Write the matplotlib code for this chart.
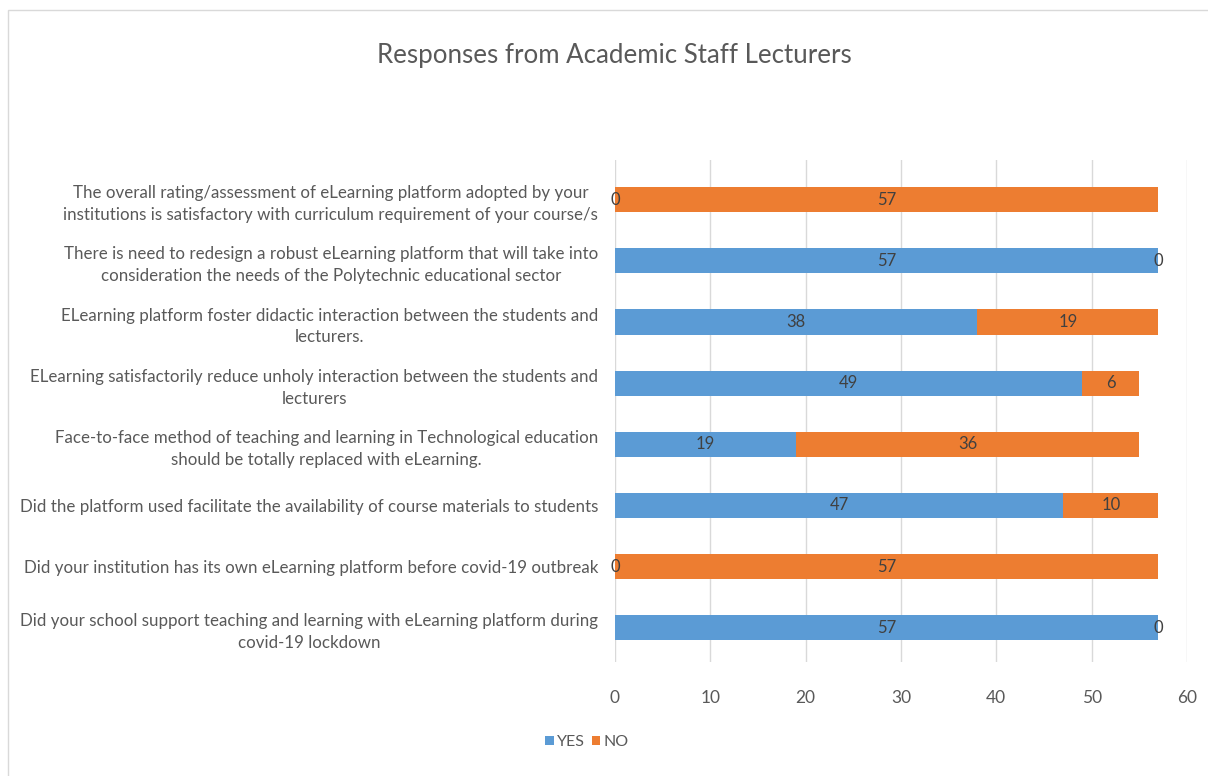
import matplotlib
matplotlib.use("Agg")
import matplotlib.pyplot as plt
from matplotlib.patches import Rectangle

categories = [
    "Did your school support teaching and learning with eLearning platform during\ncovid-19 lockdown",
    "Did your institution has its own eLearning platform before covid-19 outbreak",
    "Did the platform used facilitate the availability of course materials to students",
    "Face-to-face method of teaching and learning in Technological education\nshould be totally replaced with eLearning.",
    "ELearning satisfactorily reduce unholy interaction between the students and\nlecturers",
    "ELearning platform foster didactic interaction between the students and\nlecturers.",
    "There is need to redesign a robust eLearning platform that will take into\nconsideration the needs of the Polytechnic educational sector",
    "The overall rating/assessment of eLearning platform adopted by your\ninstitutions is satisfactory with curriculum requirement of your course/s",
]
yes_values = [57, 0, 47, 19, 49, 38, 57, 0]
no_values = [0, 57, 10, 36, 6, 19, 0, 57]
x_ticks = [0, 10, 20, 30, 40, 50, 60]
title = "Responses from Academic Staff Lecturers"

FONT = ["Lato", "DejaVu Sans"]
plt.rcParams["font.family"] = FONT
TXT = "#595959"
BLUE = "#5B9BD5"
ORANGE = "#ED7D31"

fig = plt.figure(figsize=(12.08, 7.76), dpi=100)
ax = fig.add_axes([615 / 1208, 1 - 662 / 776, (1187 - 615) / 1208, (662 - 160) / 776])

ypos = list(range(len(categories)))
b1 = ax.barh(ypos, yes_values, height=0.41, color=BLUE, label="YES")
b2 = ax.barh(ypos, no_values, left=yes_values, height=0.41, color=ORANGE, label="NO")
ax.bar_label(b1, label_type="center", color="#404040", fontsize=12)
ax.bar_label(b2, label_type="center", color="#404040", fontsize=12)

ax.set_xlim(0, 60)
ax.set_ylim(-0.56, 7.65)
ax.set_xticks(x_ticks)
ax.set_yticks(ypos)
ax.set_yticklabels(categories, ha="right", multialignment="center", linespacing=1.45)
ax.tick_params(axis="y", length=0, pad=12, labelsize=12.2, labelcolor=TXT)
ax.tick_params(axis="x", length=0, pad=20, labelsize=12.5, labelcolor=TXT)
ax.grid(axis="x", color="#D9D9D9", linewidth=1)
ax.set_axisbelow(True)
for s in ax.spines.values():
    s.set_visible(False)

fig.text(614 / 1208, 1 - 56 / 776, title, ha="center", va="center", fontsize=18.6, color=TXT)

fig.legend(handles=[b1, b2], labels=["YES", "NO"], loc="center",
           bbox_to_anchor=(587 / 1208, 1 - 742 / 776), ncol=2, frameon=False,
           fontsize=11.5, labelcolor=TXT, handlelength=0.55, handleheight=0.55,
           handletextpad=0.2, columnspacing=0.4)

fig.add_artist(Rectangle((8 / 1208, -0.01), 1.0, 1 - 10 / 776 + 0.01,
                         transform=fig.transFigure, fill=False,
                         edgecolor="#D9D9D9", linewidth=1))

fig.savefig("out.png", dpi=100)
